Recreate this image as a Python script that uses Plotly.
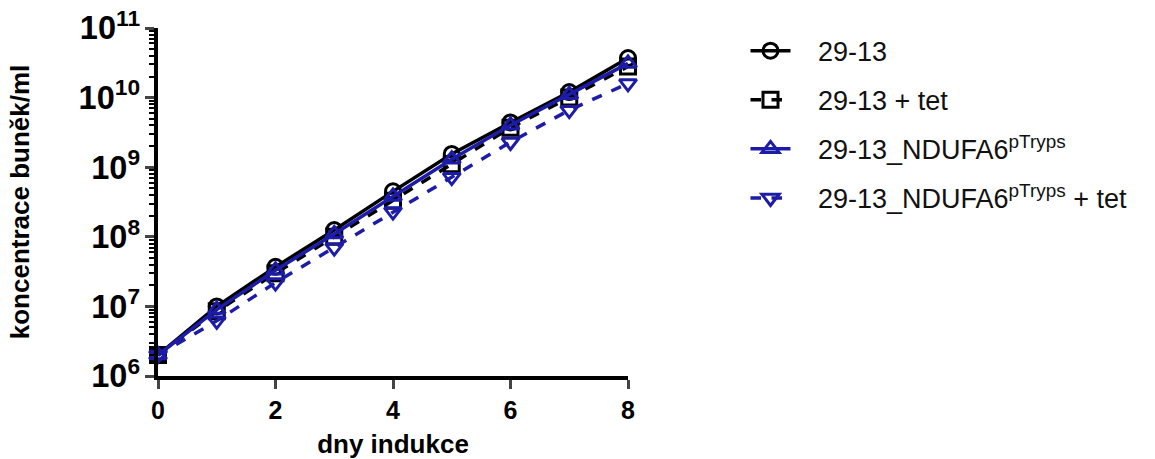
import plotly.graph_objects as go

days = [0, 1, 2, 3, 4, 5, 6, 7, 8]
names = ["29-13", "29-13 + tet", "29-13_NDUFA6<sup>pTryps</sup>", "29-13_NDUFA6<sup>pTryps</sup> + tet"]
wt = [2.0e6, 1.0e7, 3.7e7, 1.25e8, 4.5e8, 1.55e9, 4.4e9, 1.2e10, 3.7e10]
wt_tet = [2.0e6, 8.5e6, 3.0e7, 1.0e8, 3.3e8, 1.1e9, 3.7e9, 1.0e10, 2.8e10]
nd = [2.0e6, 9.0e6, 3.3e7, 1.1e8, 3.8e8, 1.3e9, 4.0e9, 1.1e10, 3.1e10]
nd_tet = [2.0e6, 6.2e6, 2.2e7, 7.0e7, 2.3e8, 7.2e8, 2.3e9, 6.6e9, 1.6e10]

black = "#000000"
blue = "#1c1ca8"

series = [
    (names[0], wt, black, "solid", "circle-open"),
    (names[1], wt_tet, black, "dash", "square-open"),
    (names[2], nd, blue, "solid", "triangle-up-open"),
    (names[3], nd_tet, blue, "dash", "triangle-down-open"),
]

fig = go.Figure()
for i, (nm, ys, col, dash, sym) in enumerate(series):
    fig.add_trace(go.Scatter(
        x=days, y=ys, name="\u00a0\u00a0\u00a0" + nm, mode="lines+markers",
        line=dict(color=col, width=3.5, dash=dash),
        marker=dict(symbol=sym, size=15, color=col, line=dict(width=3, color=col)),
        cliponaxis=False, legendgroup=str(i),
    ))

fig.update_layout(
    width=1155, height=459,
    margin=dict(l=158, r=527, t=28, b=83),
    paper_bgcolor="white", plot_bgcolor="white",
    font=dict(family="Liberation Sans, Arial", color="black"),
    showlegend=True,
    legend=dict(x=1.25, y=1.004, xanchor="left", yanchor="top",
                font=dict(size=27, color="#111"), tracegroupgap=11,
                itemwidth=40, bgcolor="rgba(0,0,0,0)"),
)
fig.update_xaxes(
    range=[0, 8], tickvals=[0, 2, 4, 6, 8], ticks="outside", ticklen=9, tickwidth=3,
    showline=True, linewidth=3.5, linecolor="black", showgrid=False, zeroline=False,
    tickfont=dict(size=25, weight="bold"), automargin=False,
    title=dict(text="dny indukce", font=dict(size=26, weight="bold"), standoff=16),
)
fig.update_yaxes(
    type="log", range=[6, 11], dtick=1, exponentformat="power", showexponent="all",
    ticks="outside", ticklen=9, tickwidth=3, ticklabeloverflow="allow",
    minor=dict(ticks="outside", ticklen=5, tickwidth=2, tickcolor="black", dtick="D1", showgrid=False),
    showline=True, linewidth=3.5, linecolor="black", showgrid=False, zeroline=False,
    tickfont=dict(size=26, weight="bold"), automargin=False,
    title=dict(text="koncentrace buněk/ml", font=dict(size=26, weight="bold"), standoff=42),
)

fig.write_html("out.html", config={"displayModeBar": False},
               post_script="document.body.style.margin='0px';")
